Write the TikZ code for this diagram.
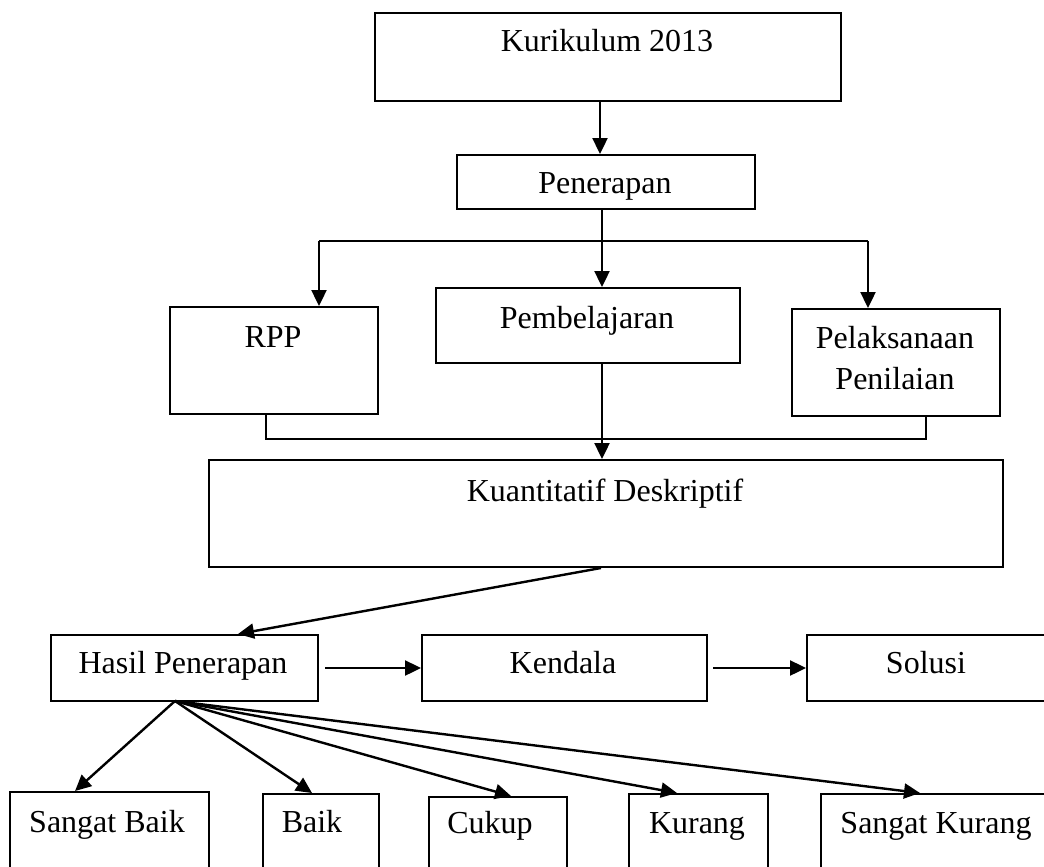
\documentclass[tikz,border=0pt]{standalone}
\usepackage{fontspec}
\setmainfont{Liberation Serif}
\usetikzlibrary{arrows.meta}
\tikzset{
  box/.style={draw, line width=2pt, inner sep=0pt, anchor=north west},
  txt/.style={inner sep=0pt, anchor=base, font=\fontsize{32}{43}\selectfont},
  ln/.style={line width=2.4pt},
  arr/.style={line width=2.4pt, -{Triangle[length=16pt,width=15pt]}},
}
\begin{document}
\begin{tikzpicture}[x=1pt,y=-1pt]
\useasboundingbox (0,0) rectangle (1044,867);
\clip (0,0) rectangle (1044,867);
% boxes
\node[box, minimum width=466pt, minimum height=88pt] (kur) at (374,12) {};
\node[box, minimum width=298pt, minimum height=54pt] (pen) at (456,154) {};
\node[box, minimum width=208pt, minimum height=107pt] (rpp) at (169,306) {};
\node[box, minimum width=304pt, minimum height=75pt] (pemb) at (435,287) {};
\node[box, minimum width=208pt, minimum height=107pt] (pel) at (791,308) {};
\node[box, minimum width=794pt, minimum height=107pt] (kuan) at (208,459) {};
\node[box, minimum width=267pt, minimum height=66pt] (hasil) at (50,634) {};
\node[box, minimum width=285pt, minimum height=66pt] (kend) at (421,634) {};
\node[box, minimum width=250pt, minimum height=66pt] (sol) at (806,634) {};
\node[box, minimum width=199pt, minimum height=100pt] (sb) at (9,791) {};
\node[box, minimum width=116pt, minimum height=100pt] (baik) at (262,793) {};
\node[box, minimum width=138pt, minimum height=100pt] (cuk) at (428,796) {};
\node[box, minimum width=139pt, minimum height=100pt] (kurg) at (628,793) {};
\node[box, minimum width=240pt, minimum height=100pt] (sk) at (820,793) {};
% texts
\node[txt] (kurt) at (607,52) {Kurikulum 2013};
\node[txt] (pent) at (605,193) {Penerapan};
\node[txt] (rppt) at (273,347) {RPP};
\node[txt] (pembt) at (587,328) {Pembelajaran};
\node[txt] (pelt1) at (895,348) {Pelaksanaan};
\node[txt] (pelt2) at (895,389) {Penilaian};
\node[txt] (kuant) at (605,501) {Kuantitatif Deskriptif};
\node[txt] (hasilt) at (183,673) {Hasil Penerapan};
\node[txt] (kendt) at (563,673) {Kendala};
\node[txt] (solt) at (926,673) {Solusi};
\node[txt] (sbt) at (107,832) {Sangat Baik};
\node[txt] (baikt) at (312,832) {Baik};
\node[txt] (cukt) at (490,833) {Cukup};
\node[txt] (kurgt) at (697,833) {Kurang};
\node[txt] (skt) at (936,833) {Sangat Kurang};
% junction coordinates
\coordinate (bl) at (319,241);
\coordinate (br) at (868,241);
\coordinate (cl) at (266,439);
\coordinate (cr) at (926,439);
\coordinate (fan) at (175,701);
% connectors
\draw[arr] (kur.south -| 600,0) -- (pen.north -| 600,0);
\draw[arr] (pen.south -| 602,0) -- (pemb.north -| 602,0);
\draw[ln] (bl) -- (br);
\draw[arr] (bl) -- (rpp.north -| bl);
\draw[arr] (br) -- (pel.north -| br);
\draw[ln] (rpp.south -| cl) -- (cl) -- (cr) -- (pel.south -| cr);
\draw[arr] (pemb.south -| 602,0) -- (kuan.north -| 602,0);
\draw[arr] (kuan.south -| 601,0) -- (hasil.north -| 238,0);
\draw[arr] ([xshift=6pt]hasil.east) -- (kend.west);
\draw[arr] ([xshift=5pt]kend.east) -- (sol.west);
\draw[arr] (fan) -- (sb.north -| 75,0);
\draw[arr] (fan) -- (baik.north -| 312,0);
\draw[arr] (fan) -- (cuk.north -| 511,0);
\draw[arr] (fan) -- (kurg.north -| 677,0);
\draw[arr] (fan) -- (sk.north -| 920,0);
\end{tikzpicture}
\end{document}
